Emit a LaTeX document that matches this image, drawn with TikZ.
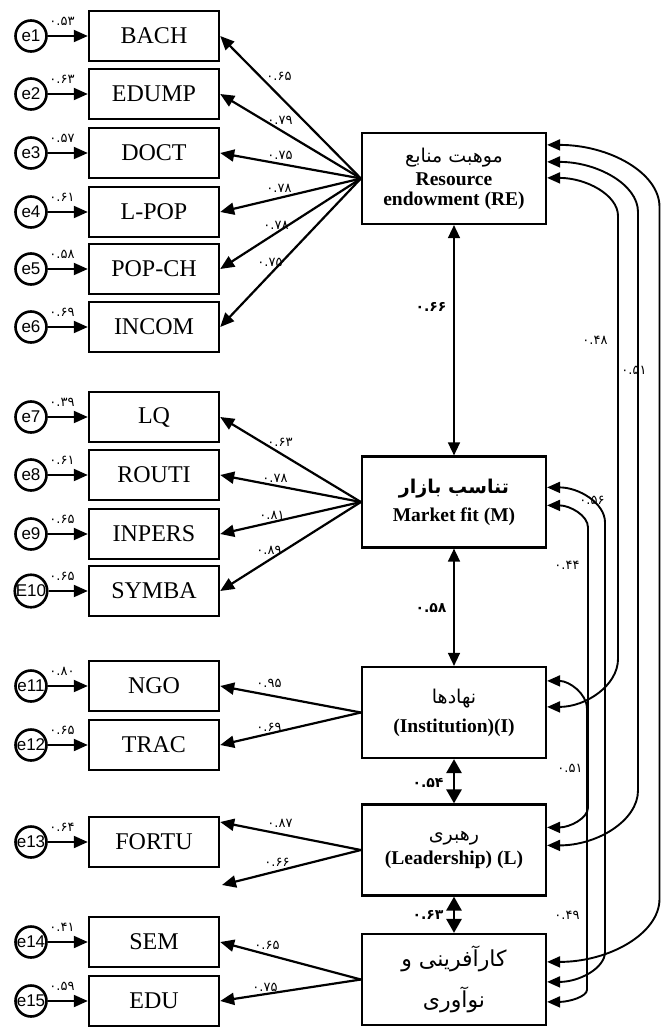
\documentclass[tikz,border=0pt]{standalone}
\usepackage{fontspec}
\setmainfont{Liberation Serif}
\newfontfamily\sansf{Liberation Sans}
\newfontfamily\fa[Script=Arabic]{DejaVu Sans}
\TeXXeTstate=1
\usetikzlibrary{arrows.meta,calc}
\newcommand\corrline[6]{%
  \draw[dar] (#1) .. controls +(0.55*#6,0) and +(0,-0.55*#4) .. ($(#1 -| #3)+(0,#4)$)
    -- ($(#2 -| #3)+(0,-#5)$) .. controls +(0,0.55*#5) and +(0.55*#6,0) .. (#2);}
\begin{document}
\begin{tikzpicture}[x=1pt,y=-1pt,
  ind/.style={draw,line width=2.4pt,minimum width=130pt,minimum height=50pt,inner sep=0pt,font=\fontsize{24}{26}\selectfont},
  lat/.style={draw,line width=2.2pt,minimum width=184pt,minimum height=91pt,inner sep=0pt,align=center,font=\bfseries\fontsize{19.5}{20}\selectfont},
  err/.style={circle,draw,line width=2.6pt,minimum size=31pt,inner sep=0pt,font=\sansf\fontsize{17}{17}\selectfont},
  num/.style={inner sep=0pt,font=\fa\fontsize{13}{13}\selectfont},
  bnum/.style={inner sep=0pt,font=\fa\bfseries\fontsize{14}{14}\selectfont},
  ar/.style={line width=2pt,-{Triangle[length=14pt,width=12pt]}},
  ld/.style={line width=2.2pt,-{Triangle[length=14pt,width=12pt]}},
  dar/.style={line width=1.9pt,{Triangle[length=13pt,width=11pt]}-{Triangle[length=13pt,width=11pt]}},
  vthin/.style={line width=1.5pt,{Triangle[length=13pt,width=12pt]}-{Triangle[length=13pt,width=12pt]}},
  vthick/.style={line width=2.8pt,{Triangle[length=14pt,width=15pt]}-{Triangle[length=14pt,width=15pt]}},
  fal/.style={font=\fa\mdseries\fontsize{#1}{#1}\selectfont},
]
\fill[white] (0,0) rectangle (661,1027);
\useasboundingbox (0,0) rectangle (661,1027);

% indicator boxes
\node[ind] (BACH)   at (154,36)  {BACH};
\node[ind] (EDUMP)  at (154,94)  {EDUMP};
\node[ind] (DOCT)   at (154,153) {DOCT};
\node[ind] (LPOP)   at (154,212) {L-POP};
\node[ind] (POPCH)  at (154,269) {POP-CH};
\node[ind] (INCOM)  at (154,327) {INCOM};
\node[ind] (LQ)     at (154,417) {LQ};
\node[ind] (ROUTI)  at (154,475) {ROUTI};
\node[ind] (INPERS) at (154,534) {INPERS};
\node[ind] (SYMBA)  at (154,591) {SYMBA};
\node[ind] (NGO)    at (154,686) {NGO};
\node[ind] (TRAC)   at (154,745) {TRAC};
\node[ind] (FORTU)  at (154,842) {FORTU};
\node[ind] (SEM)    at (154,942) {SEM};
\node[ind] (EDU)    at (154,1001) {EDU};

% error circles
\foreach \n/\t/\y/\b/\v in {e1/e1/36/BACH/۰.۵۳, e2/e2/94/EDUMP/۰.۶۳, e3/e3/153/DOCT/۰.۵۷,
  e4/e4/212/LPOP/۰.۶۱, e5/e5/269/POPCH/۰.۵۸, e6/e6/327/INCOM/۰.۶۹,
  e7/e7/417/LQ/۰.۳۹, e8/e8/475/ROUTI/۰.۶۱, e9/e9/534/INPERS/۰.۶۵, e10/E10/591/SYMBA/۰.۶۵,
  e11/e11/686/NGO/۰.۸۰, e12/e12/745/TRAC/۰.۶۵, e13/e13/842/FORTU/۰.۶۴,
  e14/e14/942/SEM/۰.۴۱, e15/e15/1001/EDU/۰.۵۹}{
  \node[err] (\n) at (31,\y) {\t};
  \node[num] (v\n) at (62,\y-15) {\v};
  \draw[ar] (\n) -- (\b);
}

% latent boxes
\node[lat] (RE) at (454,178.5) {{\fa\mdseries\fontsize{19}{19}\selectfont\beginR موهبت منابع\endR}\\[3pt]Resource\\endowment (RE)};
\node[lat] (M) at (454,502) {{\fa\fontsize{19}{19}\selectfont\beginR تناسب بازار\endR}\\[8pt]Market fit (M)};
\node[lat] (Inst) at (454,712.5) {{\fa\mdseries\fontsize{19}{19}\selectfont\beginR نهادها\endR}\\[9pt](Institution)(I)};
\node[lat] (Lead) at (454,850) {{\fa\mdseries\fontsize{19}{19}\selectfont\beginR رهبری\endR}\\[4pt](Leadership) (L)};
\node[lat] (Ent) at (454,979.5) {{\fa\mdseries\fontsize{22}{22}\selectfont\beginR کارآفرینی  و\endR}\\[14pt]{\fa\mdseries\fontsize{22}{22}\selectfont\beginR نوآوری\endR}};

% loadings
\foreach \b in {BACH,EDUMP,DOCT,LPOP,POPCH,INCOM}{\draw[ld] (RE.west) -- (\b.east);}
\foreach \b in {LQ,ROUTI,INPERS,SYMBA}{\draw[ld] (M.west) -- (\b.east);}
\foreach \b in {NGO,TRAC}{\draw[ld] (Inst.west) -- (\b.east);}
\coordinate (ghost) at (222,885);
\coordinate (fortuA) at ($(FORTU.east)+(0,-20)$);
\draw[ld] (Lead.west) -- (fortuA);
\draw[ld] (Lead.west) -- (ghost);
\foreach \b in {SEM,EDU}{\draw[ld] (Ent.west) -- (\b.east);}

% loading labels
\foreach \n/\x/\y/\v in {l1/279/76/۰.۶۵, l2/280/120/۰.۷۹, l3/280/155/۰.۷۵, l4/279/188/۰.۷۸,
  l5/276/225/۰.۷۸, l6/270/262/۰.۷۵, l7/280/442/۰.۶۳, l8/275/478/۰.۷۸, l9/272/515/۰.۸۱,
  l10/269/550/۰.۸۹, l11/269/683/۰.۹۵, l12/269/727/۰.۶۹, l13/280/823/۰.۸۷, l14/277/862/۰.۶۶,
  l15/267/945/۰.۶۵, l16/265/987/۰.۷۵}{
  \node[num] (\n) at (\x,\y) {\v};
}

% vertical correlations
\draw[vthin] (RE.south) -- (M.north);
\draw[vthin] (M.south) -- (Inst.north);
\draw[vthick] (Inst.south) -- (Lead.north);
\draw[vthick] (Lead.south) -- (Ent.north);
\node[bnum] (c1) at (431,307) {۰.۶۶};
\node[bnum] (c2) at (431,608) {۰.۵۸};
\node[bnum] (c3) at (428,783) {۰.۵۴};
\node[bnum] (c4) at (428,915) {۰.۶۳};

% right-side correlations
\coordinate (reA) at ($(RE.north east)+(0,13)$);
\coordinate (reB) at ($(RE.north east)+(0,30)$);
\coordinate (reC) at ($(RE.north east)+(0,46)$);
\coordinate (mA) at ($(M.north east)+(0,32)$);
\coordinate (mB) at ($(M.north east)+(0,50)$);
\coordinate (inA) at ($(Inst.north east)+(0,15)$);
\coordinate (inB) at ($(Inst.north east)+(0,41)$);
\coordinate (ldA) at ($(Lead.north east)+(0,24)$);
\coordinate (ldB) at ($(Lead.north east)+(0,42)$);
\coordinate (enA) at ($(Ent.north east)+(0,29)$);
\coordinate (enB) at ($(Ent.north east)+(0,49)$);
\coordinate (enC) at ($(Ent.north east)+(0,69)$);
\coordinate (x660) at (659.5,0);
\coordinate (x638) at (638,0);
\coordinate (x618) at (618,0);
\coordinate (x605) at (605,0);
\coordinate (x588) at (588,0);
\coordinate (x587) at (587,0);
\corrline{reA}{enA}{x660}{62}{63}{113}
\corrline{reB}{ldB}{x638}{50}{55}{91}
\corrline{reC}{inB}{x618}{38}{48}{71}
\corrline{mA}{enB}{x605}{35}{30}{58}
\corrline{mB}{ldA}{x588}{22}{20}{41}
\corrline{inA}{enC}{x587}{28}{12}{40}
\node[num] (r1) at (595,340) {۰.۴۸};
\node[num] (r2) at (634,370) {۰.۵۱};
\node[num] (r3) at (592,500) {۰.۵۶};
\node[num] (r4) at (567,565) {۰.۴۴};
\node[num] (r5) at (570,768) {۰.۵۱};
\node[num] (r6) at (567,915) {۰.۴۹};
\end{tikzpicture}
\end{document}
